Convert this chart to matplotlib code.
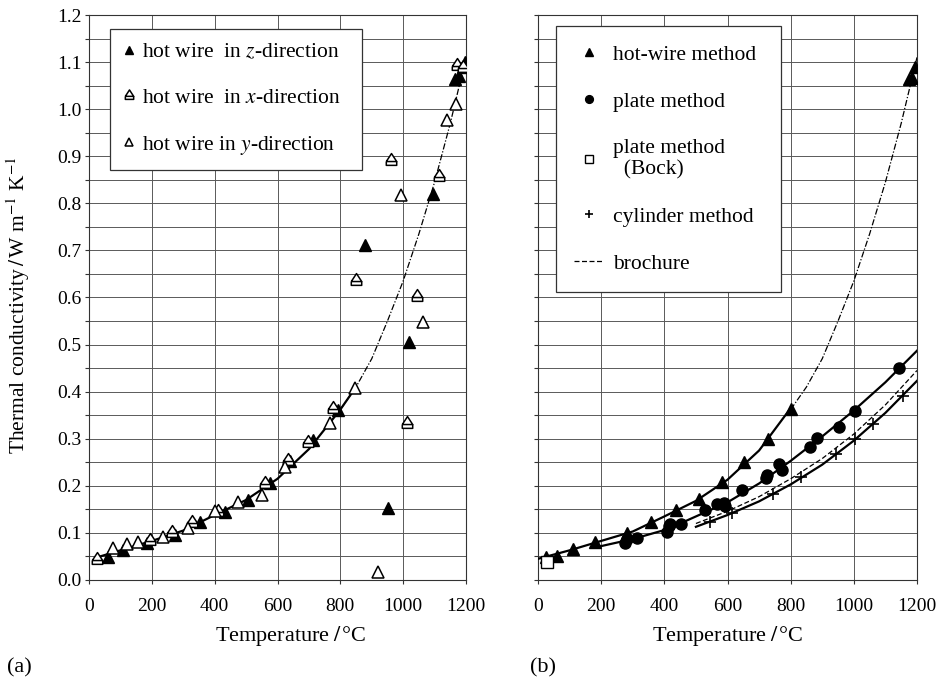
import numpy as np
import matplotlib.pyplot as plt
from matplotlib.path import Path
from matplotlib.ticker import MultipleLocator

plt.rcParams['font.family'] = ['Liberation Serif', 'DejaVu Serif']
plt.rcParams['mathtext.fontset'] = 'stix'

# (a) hot wire, three directions
z_T = [62, 109, 184, 274, 353, 433, 507, 576, 640, 714, 794, 877, 953, 1020, 1096, 1165, 1178, 1190, 1196]
z_k = [0.048, 0.064, 0.078, 0.096, 0.124, 0.145, 0.170, 0.207, 0.252, 0.297, 0.361,
       0.711, 0.152, 0.506, 0.819, 1.064, 1.07, 1.09, 1.10]
x_T = [25, 194, 263, 327, 412, 560, 634, 698, 778, 850, 960, 1011, 1043, 1115, 1172, 1191]
x_k = [0.044, 0.086, 0.103, 0.124, 0.147, 0.207, 0.255, 0.294, 0.365, 0.638, 0.892,
       0.334, 0.604, 0.859, 1.094, 1.09]
y_T = [77, 120, 157, 237, 316, 401, 475, 550, 624, 767, 847, 919, 993, 1062, 1138, 1168]
y_k = [0.067, 0.076, 0.081, 0.092, 0.110, 0.147, 0.166, 0.180, 0.241, 0.333, 0.407,
       0.016, 0.818, 0.549, 0.976, 1.011]

# fitted curve, solid part and dash-dot extension
fit_T = [20, 100, 200, 300, 400, 500, 600, 700, 800, 850]
fit_k = [0.047, 0.063, 0.083, 0.105, 0.138, 0.170, 0.215, 0.278, 0.362, 0.41]
ext_T = [800, 850, 900, 950, 1000, 1050, 1100, 1150, 1200]
ext_k = [0.362, 0.41, 0.47, 0.55, 0.635, 0.735, 0.845, 0.97, 1.11]

# (b) comparison of methods
hw_T = [25, 61, 110, 180, 281, 357, 437, 509, 584, 652, 727, 800, 1175, 1185, 1195]
hw_k = [0.049, 0.050, 0.065, 0.081, 0.099, 0.123, 0.148, 0.171, 0.208, 0.251, 0.299, 0.364,
        1.065, 1.067, 1.09]
pl_T = [276, 281, 312, 407, 416, 418, 452, 529, 566, 589, 592, 645, 722, 726, 763, 771,
        861, 884, 954, 1004, 1144]
pl_k = [0.079, 0.088, 0.090, 0.102, 0.114, 0.120, 0.120, 0.149, 0.161, 0.164, 0.158, 0.191,
        0.217, 0.224, 0.246, 0.233, 0.282, 0.302, 0.324, 0.359, 0.450]
bock_T = [30]
bock_k = [0.039]
cyl_T = [545, 615, 745, 833, 944, 1004, 1062, 1155]
cyl_k = [0.124, 0.143, 0.182, 0.219, 0.267, 0.299, 0.332, 0.391]

hwfit_T = [0, 100, 200, 300, 400, 500, 600, 700, 800]
hwfit_k = [0.045, 0.063, 0.083, 0.103, 0.135, 0.168, 0.213, 0.275, 0.365]
plfit_T = [200, 300, 400, 450, 500, 600, 700, 800, 900, 1000, 1100, 1200]
plfit_k = [0.072, 0.087, 0.106, 0.120, 0.135, 0.165, 0.205, 0.253, 0.305, 0.360, 0.420, 0.487]
cylfit_T = [500, 600, 700, 800, 900, 1000, 1100, 1200]
cylfit_k = [0.113, 0.138, 0.167, 0.203, 0.245, 0.296, 0.355, 0.423]
bro_T = [500, 600, 700, 800, 900, 1000, 1100, 1200]
bro_k = [0.120, 0.146, 0.177, 0.215, 0.258, 0.310, 0.372, 0.445]

# triangle standing on a small box (x-direction marker)
tri_box = Path([(-0.75, -0.15), (0, 1), (0.75, -0.15), (-0.75, -0.15),
                (-0.75, -0.15), (-0.75, -0.7), (0.75, -0.7), (0.75, -0.15)],
               [Path.MOVETO, Path.LINETO, Path.LINETO, Path.LINETO,
                Path.MOVETO, Path.LINETO, Path.LINETO, Path.LINETO])

dashdot = (0, (5, 1.5, 1, 1.5))

fig = plt.figure(figsize=(9.43, 6.81), dpi=100)
ax1 = fig.add_axes([89 / 943, 1 - 580 / 681, 377 / 943, 565 / 681])
ax2 = fig.add_axes([538 / 943, 1 - 580 / 681, 379 / 943, 565 / 681])

for ax in (ax1, ax2):
    ax.set_xlim(0, 1200)
    ax.set_ylim(0, 1.2)
    ax.xaxis.set_major_locator(MultipleLocator(200))
    ax.yaxis.set_major_locator(MultipleLocator(0.1))
    ax.yaxis.set_minor_locator(MultipleLocator(0.05))
    ax.grid(True, which='both', color='0.35', lw=0.7)
    ax.set_axisbelow(True)
    ax.tick_params(direction='out', length=3, width=0.8, labelsize=14, color='0.2')
    ax.tick_params(axis='x', pad=10)
    ax.tick_params(axis='y', pad=2.5)
    ax.tick_params(which='minor', direction='out', length=3, width=0.8, color='0.2')
    for s in ax.spines.values():
        s.set_color('0.2')
        s.set_linewidth(0.8)
    ax.set_xlabel('Temperature$\\;/\\,$°C', fontsize=16)

ax1.xaxis.set_label_coords(0.536, -0.078)
ax2.xaxis.set_label_coords(0.5, -0.078)

ax1.yaxis.set_major_formatter(plt.FormatStrFormatter('%.1f'))
ax1.set_ylabel('Thermal conductivity$\\,/\\,$W m$^{-1}$ K$^{-1}$', fontsize=15.5)
ax1.yaxis.set_label_coords(-0.152, 0.487)
ax2.tick_params(axis='y', labelleft=False)

# panel (a)
ax1.plot(fit_T, fit_k, color='black', lw=1.6, zorder=3)
ax1.plot(ext_T, ext_k, color='black', lw=0.9, ls=dashdot, zorder=3)
h1, = ax1.plot(z_T, z_k, ls='none', marker='^', ms=8, color='black', zorder=4,
               label='hot wire  in $z$-direction')
h2, = ax1.plot(x_T, x_k, ls='none', marker=tri_box, ms=10, mfc='white', mec='black',
               mew=1.1, zorder=5, label='hot wire  in $x$-direction')
h3, = ax1.plot(y_T, y_k, ls='none', marker='^', ms=8, mfc='white', mec='black',
               mew=1.1, zorder=5, label='hot wire in $y$-direction')
leg1 = ax1.legend(handles=[h1, h2, h3], loc='upper left',
                  bbox_to_anchor=(0.056, 0.731, 0.668, 0.244), mode='expand',
                  borderaxespad=0, fontsize=15.5, labelspacing=1.2, borderpad=0.6,
                  handlelength=0.6, handletextpad=0.3, fancybox=False,
                  framealpha=1, edgecolor='0.2', markerscale=0.8)
leg1.get_frame().set_linewidth(0.9)

# panel (b)
ax2.plot(hwfit_T, hwfit_k, color='black', lw=1.6, zorder=3)
ax2.plot(ext_T, ext_k, color='black', lw=0.9, ls=dashdot, zorder=3)
ax2.plot(plfit_T, plfit_k, color='black', lw=1.6, zorder=3)
ax2.plot(cylfit_T, cylfit_k, color='black', lw=1.6, zorder=3)
g5, = ax2.plot(bro_T, bro_k, color='black', lw=0.9, ls=(0, (4, 2)), zorder=3,
               label='brochure')
g1, = ax2.plot(hw_T, hw_k, ls='none', marker='^', ms=8, color='black', zorder=4,
               label='hot-wire method')
g2, = ax2.plot(pl_T, pl_k, ls='none', marker='o', ms=8, color='black', zorder=4,
               label='plate method')
g3, = ax2.plot(bock_T, bock_k, ls='none', marker='s', ms=8, mfc='white', mec='black',
               mew=1.0, zorder=5, label='plate method\n  (Bock)')
g4, = ax2.plot(cyl_T, cyl_k, ls='none', marker='+', ms=9, mew=1.2, color='black',
               zorder=4, label='cylinder method')
leg2 = ax2.legend(handles=[g1, g2, g3, g4, g5], loc='upper left',
                  bbox_to_anchor=(0.047, 0.519, 0.593, 0.461), mode='expand',
                  borderaxespad=0, fontsize=15.5, labelspacing=1.25, borderpad=0.85,
                  handlelength=1.4, handletextpad=0.4, fancybox=False,
                  framealpha=1, edgecolor='0.2', markerscale=0.7)
leg2.get_frame().set_linewidth(0.9)

fig.text(7 / 943, 1 - 668 / 681, '(a)', fontsize=16, va='center', ha='left')
fig.text(530 / 943, 1 - 668 / 681, '(b)', fontsize=16, va='center', ha='left')

fig.savefig('out.png', dpi=100)
